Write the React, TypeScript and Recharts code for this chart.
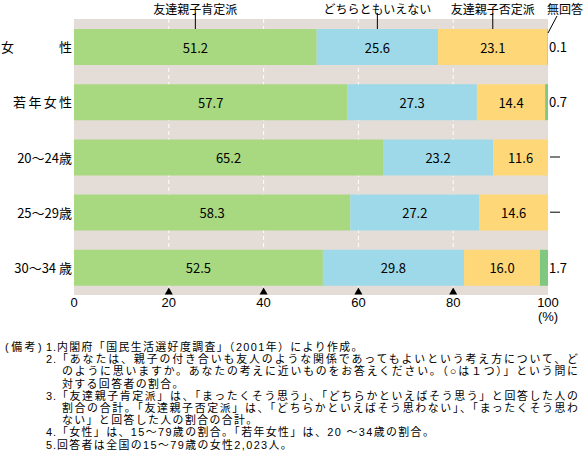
import React from 'react';
import { BarChart, Bar, XAxis, YAxis, CartesianGrid, LabelList } from 'recharts';

const categories = ['女　　　性', '若年女性', '20～24歳', '25～29歳', '30～34 歳'];
const positive = [51.2, 57.7, 65.2, 58.3, 52.5];
const neutral = [25.6, 27.3, 23.2, 27.2, 29.8];
const negative = [23.1, 14.4, 11.6, 14.6, 16.0];
const noAnswer = [0.1, 0.7, 0, 0, 1.7];
const seriesNames = ['友達親子肯定派', 'どちらともいえない', '友達親子否定派', '無回答'];
const xTicks = [0, 20, 40, 60, 80, 100];
const gridTicks = [20, 40, 60, 80];

type Note = { num?: string; pre?: string; text: string; indent: boolean; justify: boolean };
const notes: Note[] = [
  { pre: '(備考)', num: '1.', text: '内閣府「国民生活選好度調査」（2001年）により作成。', indent: false, justify: false },
  { num: '2.', text: '「あなたは、親子の付き合いも友人のような関係であってもよいという考え方について、ど', indent: false, justify: true },
  { text: 'のように思いますか。あなたの考えに近いものをお答えください。（○は１つ）」という問に', indent: true, justify: true },
  { text: '対する回答者の割合。', indent: true, justify: false },
  { num: '3.', text: '「友達親子肯定派」は、「まったくそう思う」、「どちらかといえばそう思う」と回答した人の', indent: false, justify: true },
  { text: '割合の合計。「友達親子否定派」は、「どちらかといえばそう思わない」、「まったくそう思わ', indent: true, justify: true },
  { text: 'ない」と回答した人の割合の合計。', indent: true, justify: false },
  { num: '4.', text: '「女性」は、15～79歳の割合。「若年女性」は、20 ～34歳の割合。', indent: false, justify: false },
  { num: '5.', text: '回答者は全国の15～79歳の女性2,023人。', indent: false, justify: false },
];

const data = categories.map((name, i) => ({
  name,
  positive: positive[i],
  neutral: neutral[i],
  negative: negative[i],
  noAnswer: noAnswer[i],
}));

const FONT = '"Noto Sans CJK JP", "Noto Sans", sans-serif';
const NOTE_FONT = '"Liberation Sans", "Noto Sans CJK JP", sans-serif';
const COLORS = ['#a8d880', '#9dd9e8', '#fed878', '#80c880'];

const makeInnerLabel = (seriesName: string) => (props: any) => {
  const { x, y, width, height, value, index } = props;
  const cx = Number(x) + Number(width) / 2;
  const cy = Number(y) + Number(height) / 2;
  return (
    <g>
      <text x={cx} y={cy} textAnchor="middle" dominantBaseline="central" fontSize={13} fontFamily={FONT} fill="#000">
        {Number(value).toFixed(1)}
      </text>
      {index === 0 && (
        <g>
          <line x1={cx} x2={cx} y1={Number(y) - 16} y2={Number(y)} stroke="#000" strokeWidth={1} />
          <text x={cx} y={Number(y) - 21} textAnchor="middle" dominantBaseline="central" fontSize={12} fontFamily={FONT} fill="#000">
            {seriesName}
          </text>
        </g>
      )}
    </g>
  );
};

const noAnswerLeader = (props: any) => {
  const { x, y, width, index } = props;
  if (index !== 0) return null;
  const right = Number(x) + Number(width);
  return (
    <g>
      <line x1={right} y1={Number(y) + 4} x2={right + 9} y2={Number(y) - 13} stroke="#000" strokeWidth={1} />
      <text x={right + 17} y={Number(y) - 21} textAnchor="middle" dominantBaseline="central" fontSize={12} fontFamily={FONT} fill="#000">
        {seriesNames[3]}
      </text>
    </g>
  );
};

const RightTick = (props: any) => {
  const { x, y, index } = props;
  const v = noAnswer[index];
  if (v === 0) {
    return <line x1={x + 1} x2={x + 11} y1={y} y2={y} stroke="#000" strokeWidth={1} />;
  }
  return (
    <text x={x} y={y} textAnchor="start" dominantBaseline="central" fontSize={13} fontFamily={FONT} fill="#000">
      {v.toFixed(1)}
    </text>
  );
};

const XTick = (props: any) => {
  const { x, y, payload } = props;
  const v = payload.value;
  return (
    <g>
      {v > 0 && v < 100 && (
        <polygon points={`${x - 4},${y - 0.5} ${x + 4},${y - 0.5} ${x},${y - 7.5}`} fill="#000" />
      )}
      <text x={x} y={y + 7} textAnchor="middle" dominantBaseline="central" fontSize={13} fontFamily={NOTE_FONT} fill="#000">
        {v}
      </text>
      {v === 100 && (
        <text x={x} y={y + 21.5} textAnchor="middle" dominantBaseline="central" fontSize={13} fontFamily={NOTE_FONT} fill="#000">
          (%)
        </text>
      )}
    </g>
  );
};

const YTick = (props: any) => {
  const { x, y, payload, index } = props;
  const ls = index === 0 ? 1.5 : index === 1 ? 2.3 : 0;
  return (
    <text x={x + ls} y={y} textAnchor="end" dominantBaseline="central" fontSize={13} fontFamily={FONT} fill="#000" letterSpacing={ls}>
      {payload.value}
    </text>
  );
};

const firstLine = 347;
const linePitch = 12.2;

export default function App() {
  const noteStyle: React.CSSProperties = {
    position: 'absolute',
    fontFamily: NOTE_FONT,
    fontSize: 10.9,
    lineHeight: '12px',
    whiteSpace: 'nowrap',
    letterSpacing: 1.4,
  };
  return (
    <div style={{ position: 'absolute', left: 0, top: 0, width: 584, height: 452, background: '#fff', fontFamily: FONT }}>
      <BarChart
        width={584}
        height={452}
        data={data}
        layout="vertical"
        margin={{ top: 19, right: 0, bottom: 127, left: 0 }}
        barSize={36}
      >
        <CartesianGrid
          fill="#e4ddd7"
          fillOpacity={1}
          horizontal={false}
          vertical={true}
          verticalValues={gridTicks}
          stroke="#ffffff"
          strokeDasharray="4 3"
        />
        <XAxis
          type="number"
          domain={[0, 100]}
          allowDataOverflow
          ticks={xTicks}
          interval={0}
          axisLine={false}
          tickLine={false}
          tickSize={0}
          tickMargin={0}
          height={30}
          tick={<XTick />}
        />
        <YAxis
          type="category"
          dataKey="name"
          width={74}
          axisLine={false}
          tickLine={false}
          tickSize={0}
          tickMargin={2}
          interval={0}
          tick={<YTick />}
        />
        <YAxis
          yAxisId="right"
          orientation="right"
          type="category"
          dataKey="name"
          width={36}
          axisLine={false}
          tickLine={false}
          tickSize={0}
          tickMargin={1}
          interval={0}
          tick={<RightTick />}
        />
        <Bar dataKey="positive" stackId="a" fill={COLORS[0]} isAnimationActive={false}>
          <LabelList dataKey="positive" content={makeInnerLabel(seriesNames[0])} />
        </Bar>
        <Bar dataKey="neutral" stackId="a" fill={COLORS[1]} isAnimationActive={false}>
          <LabelList dataKey="neutral" content={makeInnerLabel(seriesNames[1])} />
        </Bar>
        <Bar dataKey="negative" stackId="a" fill={COLORS[2]} isAnimationActive={false}>
          <LabelList dataKey="negative" content={makeInnerLabel(seriesNames[2])} />
        </Bar>
        <Bar dataKey="noAnswer" stackId="a" fill={COLORS[3]} isAnimationActive={false}>
          <LabelList dataKey="noAnswer" content={noAnswerLeader} />
        </Bar>
      </BarChart>
      {notes.map((n, i) => {
        const top = firstLine + i * linePitch - 6;
        const start = n.indent ? 62 : 57;
        return (
          <React.Fragment key={i}>
            {n.pre && (
              <div style={{ ...noteStyle, left: 5, top, letterSpacing: 2.5 }}>{n.pre}</div>
            )}
            {n.num && (
              <div style={{ ...noteStyle, left: 46, top, letterSpacing: 1 }}>{n.num}</div>
            )}
            <div
              style={{
                ...noteStyle,
                left: start,
                top,
                width: n.justify ? 578 - start : undefined,
                textAlign: n.justify ? 'justify' : 'left',
                textAlignLast: n.justify ? 'justify' : 'auto',
                letterSpacing: n.justify ? 0 : 1.4,
              }}
            >
              {n.text}
            </div>
          </React.Fragment>
        );
      })}
    </div>
  );
}
